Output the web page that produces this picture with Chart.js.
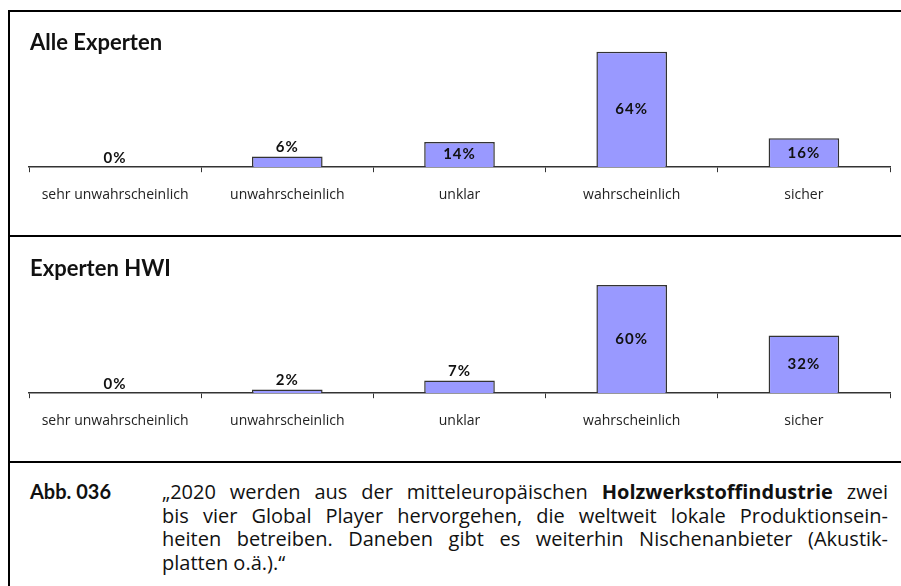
<!DOCTYPE html>
<html lang="de">
<head>
<meta charset="utf-8">
<script src="https://cdn.jsdelivr.net/npm/chart.js@4"></script>
<style>
  html, body { margin: 0; padding: 0; background: #fff; }
  #page { position: relative; width: 901px; height: 586px; overflow: hidden; font-family: "Open Sans", sans-serif; color: #111; }
  .rule { position: absolute; background: #000; }
  .panel { position: absolute; left: 9px; width: 892px; height: 225px; }
  .panel h2 { position: absolute; left: 21px; top: 17px; margin: 0; font: bold 22px Lato, sans-serif; z-index: 2; }
  .panel canvas { position: absolute; left: 0; top: 0; }
  #caption { position: absolute; left: 30px; top: 480px; font-size: 20px; line-height: 23.6px; }
  #caption .abb { position: absolute; left: 0; top: 0; font: bold 20px Lato, sans-serif; line-height: 23.6px; white-space: nowrap; }
  #caption .text { position: absolute; left: 132px; top: 0; width: 726px; }
  #caption .line { text-align: justify; text-align-last: justify; white-space: nowrap; }
  #caption .line.last { text-align-last: left; }
</style>
</head>
<body>
<div id="page">
  <div class="rule" style="left:8px; top:10px; width:893px; height:2px;"></div>
  <div class="rule" style="left:8px; top:10px; width:2px; height:576px;"></div>
  <div class="rule" style="left:8px; top:235px; width:893px; height:2px;"></div>
  <div class="rule" style="left:8px; top:461px; width:893px; height:2px;"></div>

  <div class="panel" style="top:11px;">
    <h2>Alle Experten</h2>
    <canvas id="chartAlle" width="892" height="225"></canvas>
  </div>
  <div class="panel" style="top:237px;">
    <h2>Experten HWI</h2>
    <canvas id="chartHwi" width="892" height="225"></canvas>
  </div>

  <div id="caption">
    <div class="abb">Abb. 036</div>
    <div class="text">
      <div class="line">„2020 werden aus der mitteleuropäischen <b>Holzwerkstoffindustrie</b> zwei</div>
      <div class="line">bis vier Global Player hervorgehen, die weltweit lokale Produktionsein-</div>
      <div class="line">heiten betreiben. Daneben gibt es weiterhin Nischenanbieter (Akustik-</div>
      <div class="line last">platten o.ä.).“</div>
    </div>
  </div>
</div>

<script>
const categories = ['sehr unwahrscheinlich', 'unwahrscheinlich', 'unklar', 'wahrscheinlich', 'sicher'];
const alleExperten = [0, 6, 14, 64, 16];
const expertenHwi = [0, 2, 7, 60, 32];

// percentage above short bars, centred inside taller ones
const valueLabels = {
    id: 'valueLabels',
    afterDatasetsDraw(chart) {
        const ctx = chart.ctx;
        const values = chart.data.datasets[0].data;
        ctx.save();
        ctx.font = 'bold 15px Lato, sans-serif';
        ctx.letterSpacing = '1px';
        ctx.fillStyle = '#111';
        ctx.textAlign = 'center';
        ctx.textBaseline = 'middle';
        chart.getDatasetMeta(0).data.forEach((bar, i) => {
            const h = bar.base - bar.y;
            const y = h > 20 ? (bar.y + bar.base) / 2 : bar.y - 9;
            ctx.fillText(values[i] + '%', bar.x, y);
        });
        ctx.restore();
    }
};

function renderPanel(id, values) {
    const ctx = document.getElementById(id).getContext('2d');
    new Chart(ctx, {
        type: 'bar',
        data: {
            labels: categories,
            datasets: [{
                data: values,
                backgroundColor: '#9999ff',
                borderColor: '#333',
                borderWidth: 1.5,
                barPercentage: 0.41,
                categoryPercentage: 1
            }]
        },
        options: {
            responsive: false,
            animation: false,
            layout: { padding: { top: 30, left: 20, right: 11, bottom: 19 } },
            plugins: {
                legend: { display: false },
                tooltip: { enabled: false }
            },
            scales: {
                x: {
                    grid: { offset: true, drawOnChartArea: false, tickLength: 5, color: '#333' },
                    border: { color: '#333', width: 1.5 },
                    ticks: {
                        color: '#222',
                        padding: 14,
                        maxRotation: 0,
                        autoSkip: false,
                        font: { family: '"Open Sans", sans-serif', size: 14 }
                    }
                },
                y: { display: false, min: 0, max: 70 }
            }
        },
        plugins: [valueLabels]
    });
}

renderPanel('chartAlle', alleExperten);
renderPanel('chartHwi', expertenHwi);
</script>
</body>
</html>
